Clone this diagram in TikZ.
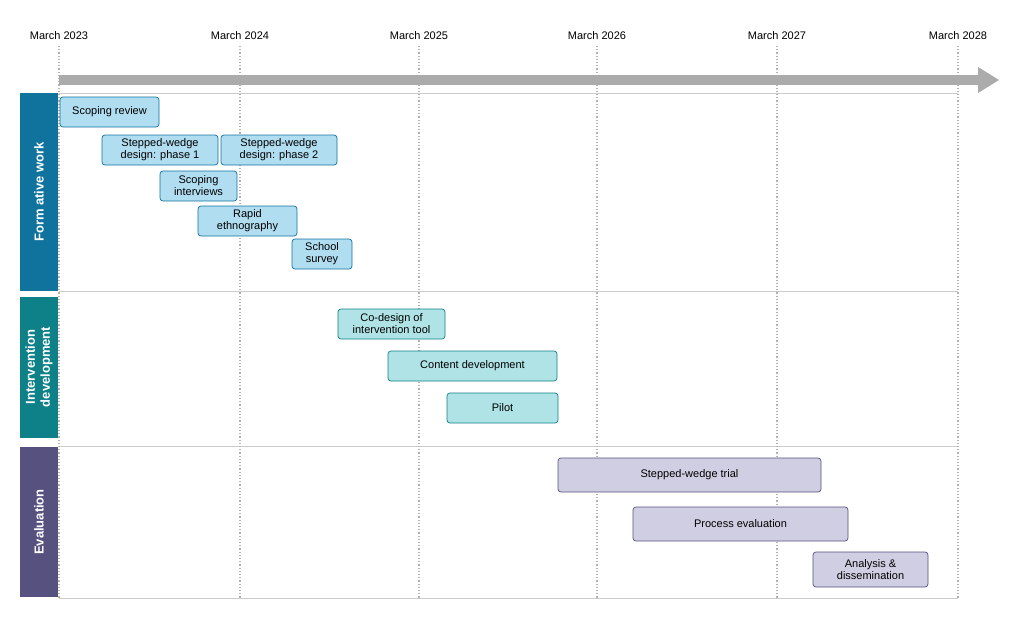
\documentclass[tikz,border=0pt]{standalone}
\usepackage{fontspec}
\setmainfont{Liberation Sans}
\begin{document}
\begin{tikzpicture}[x=1pt,y=-1pt,
  task/.style={draw, rounded corners=3pt, align=center, inner sep=0pt, font=\fontsize{11}{12}\selectfont, line width=0.7pt},
  fw/.style={task, fill=cFwL, draw=cFw},
  iv/.style={task, fill=cIvL, draw=cIv},
  ev/.style={task, fill=cEvL, draw=cEv},
  lane/.style={inner sep=0pt, text=white, font=\bfseries\fontsize{13}{15}\selectfont, align=center},
  tl/.style={font=\fontsize{11}{12}\selectfont},
  grid/.style={gray!60, dotted, line width=1.2pt}]
\definecolor{cFw}{HTML}{10739E}\definecolor{cFwL}{HTML}{B1DDF0}
\definecolor{cIv}{HTML}{0E8088}\definecolor{cIvL}{HTML}{B0E3E6}
\definecolor{cEv}{HTML}{56517E}\definecolor{cEvL}{HTML}{D0CEE2}
\useasboundingbox (0,0) rectangle (1019,621);
% horizontal lane lines
\foreach \y in {93,291,446,598} \draw[gray!40, line width=0.8pt] (59,\y) -- (958,\y);
% timeline
\foreach \x/\t [count=\i] in {59/March 2023,240/March 2024,419/March 2025,597/March 2026,777/March 2027,958/March 2028}{
  \node[tl] (m\i) at (\x,36) {\t};
  \coordinate (g\i) at (\x,598);
  \draw[grid] (\x,46) -- (g\i);
}
\coordinate (as) at (59,80); \coordinate (ae) at (999,80);
\draw[gray!90!black!60, line width=10pt] (as) -- (978,80);
\fill[gray!90!black!60] (978,67) -- (ae) -- (978,93) -- cycle;
% lanes
\fill[cFw] (20,93) rectangle (58,291);
\node[lane, rotate=90] (lfw) at (39,192) {Form ative work};
\fill[cIv] (20,297) rectangle (58,438);
\node[lane, rotate=90] (liv) at (39,367) {Intervention\\development};
\fill[cEv] (20,447) rectangle (58,597);
\node[lane, rotate=90] (lev) at (39,522) {Evaluation};
% tasks
\node[fw, minimum width=99, minimum height=30] (a) at (109.5,112) {Scoping review};
\node[fw, minimum width=116, minimum height=30] (b) at (160,150) {Stepped-wedge\\design: phase 1};
\node[fw, minimum width=116, minimum height=30] (c) at (279,150) {Stepped-wedge\\design: phase 2};
\node[fw, minimum width=77, minimum height=30] (d) at (198.5,186) {Scoping\\interviews};
\node[fw, minimum width=99, minimum height=30] (e) at (247.5,221) {Rapid\\ethnography};
\node[fw, minimum width=60, minimum height=30] (f) at (322,254) {School\\survey};
\node[iv, minimum width=107, minimum height=30] (g) at (391.5,324) {Co-design of\\intervention tool};
\node[iv, minimum width=169, minimum height=30] (h) at (472.5,366) {Content development};
\node[iv, minimum width=111, minimum height=30] (i) at (502.5,408) {Pilot};
\node[ev, minimum width=263, minimum height=34] (j) at (689.5,475) {Stepped-wedge trial};
\node[ev, minimum width=215, minimum height=34] (k) at (740.5,524) {Process evaluation};
\node[ev, minimum width=115, minimum height=35] (l) at (870.5,569.5) {Analysis \&\\dissemination};
\end{tikzpicture}
\end{document}
